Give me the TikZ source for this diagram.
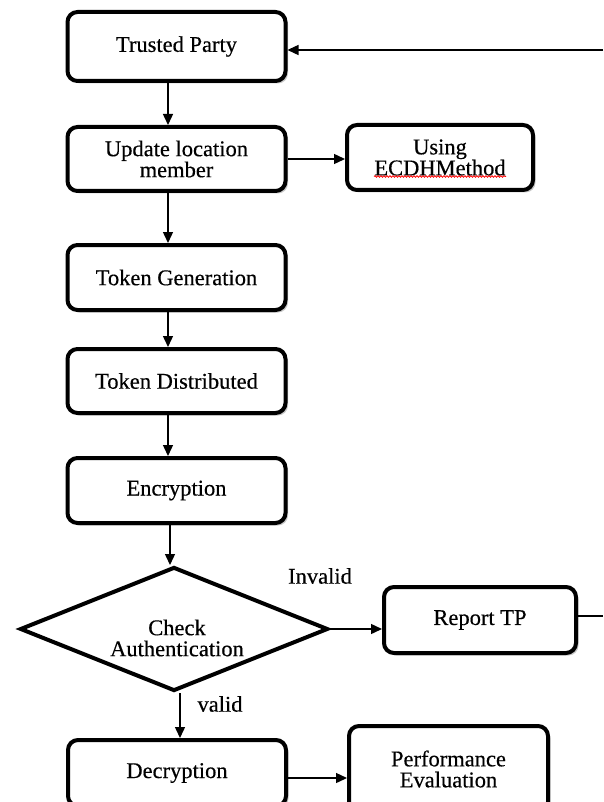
\documentclass[tikz,border=0pt]{standalone}
\usepackage{fontspec}
\setmainfont[FakeBold=0.4]{Liberation Serif}
\usetikzlibrary{arrows.meta,shapes.geometric,shadows,calc,decorations.pathmorphing}
\begin{document}
\begin{tikzpicture}[x=1pt,y=-1pt,
  box/.style={draw, line width=4pt, rounded corners=10pt, fill=white, align=center,
    inner sep=0pt, font=\fontsize{22.5}{21}\selectfont,
    drop shadow={shadow xshift=2.5pt, shadow yshift=-2.5pt, opacity=0.35, fill=black!60}},
  arr/.style={line width=1.4pt, -{Triangle[length=11pt,width=10pt]}},
  lbl/.style={font=\fontsize{22.5}{21}\selectfont, inner sep=0pt, align=center},
]
\useasboundingbox (0,0) rectangle (603,802);
\fill[white] (0,0) rectangle (603,802);
\clip (0,0) rectangle (603,802);

% main column
\node[box, minimum width=218, minimum height=69] (tp)  at (176.5,46.5) {Trusted Party};
\node[box, minimum width=218, minimum height=64] (up)  at (176.5,159)  {Update location\\member};
\node[box, minimum width=186, minimum height=65] (ecdh) at (440,157.5) {Using\\ECDHMethod};
\node[box, minimum width=218, minimum height=65] (tg)  at (176.5,277.5) {Token Generation};
\node[box, minimum width=218, minimum height=64] (td)  at (176.5,381)  {Token Distributed};
\node[box, minimum width=218, minimum height=65] (enc) at (176.5,490.5) {Encryption};

% decision
\node[diamond, draw, line width=4pt, fill=white, inner sep=0pt,
      minimum width=308, minimum height=124] (chk) at (174,629) {};
\node[lbl] (chkt) at (177,638) {Check\\Authentication};
\node[box, minimum width=192, minimum height=66] (rep) at (480,620) {Report TP};

% lower row
\node[box, minimum width=218, minimum height=66] (dec)  at (177,773) {Decryption};
\node[box, minimum width=199, minimum height=86] (perf) at (448.5,769) {Performance\\Evaluation};

% branch labels
\node[lbl] (inv) at (320,576) {Invalid};
\node[lbl] (val) at (220,704) {valid};

% spell-check underline
\draw[red, line width=0.8pt, decorate, decoration={snake, amplitude=0.8pt, segment length=3pt}]
  ($(ecdh.center)+(-66,19)$) -- ($(ecdh.center)+(66,19)$);

% connectors
\coordinate (xa) at (168,0);
\coordinate (xb) at (180,0);
\coordinate (fbtop) at (603,50);
\coordinate (fbrep) at (603,616);

\draw[arr] (tp.south -| xa) -- (up.north -| xa);
\draw[arr] (up.south -| xa) -- (tg.north -| xa);
\draw[arr] (tg.south -| xa) -- (td.north -| xa);
\draw[arr] (td.south -| xa) -- (enc.north -| xa);
\draw[arr] (enc.south -| 170,0) -- (chk.north -| 170,0);
\draw[arr] (up.east) -- (ecdh.west |- up.east);
\draw[arr] (chk.east) -- (rep.west |- chk.east);
\draw[arr] (chk.south -| xb) -- (dec.north -| xb);
\draw[arr] ($(dec.east)+(0,5)$) -- (perf.west |- {$(dec.east)+(0,5)$});
\draw[line width=1.4pt] (rep.east |- fbrep) -- (fbrep);
\draw[arr] (fbtop) -- (tp.east |- fbtop);
\end{tikzpicture}
\end{document}
